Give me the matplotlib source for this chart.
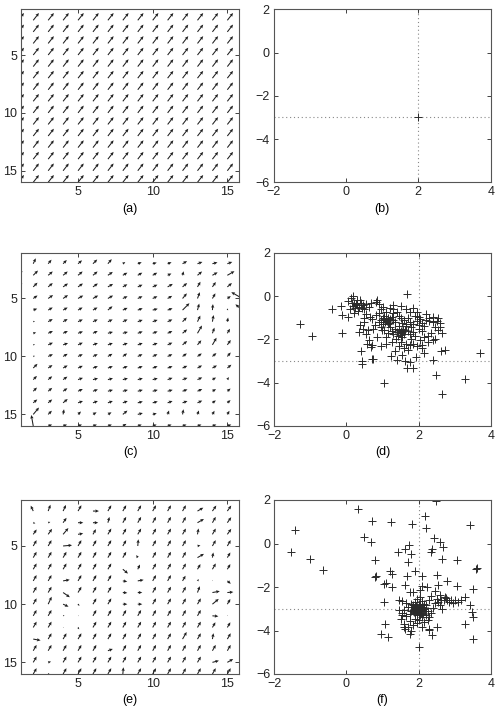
import numpy as np
import matplotlib
matplotlib.use('Agg')
import matplotlib.pyplot as plt

plt.rcParams['font.family'] = ['Liberation Sans', 'DejaVu Sans']
plt.rcParams['font.size'] = 9

# ---------------- data ----------------
GRID_X = list(range(1, 17))          # columns 1..16
GRID_Y = list(range(2, 17))          # rows 2..16 (row 1 lies outside the view)

# (a) uniform field
A_ANGLE = 52.0
A_LEN = 0.62

# (c) estimated field: screen angle (deg) and length (x-units); rows y=2..16, cols x=1..16
C_ANG = [
    [60, 65, 50, 45, 40, 45, 50, 35, 20, 15, 20, 30, 20, 15, 20, 0],
    [45, 45, 40, 40, 40, 40, 35, 30, 30, 30, 25, 75, 40, 30, 30, 0],
    [40, 45, 40, 35, 35, 35, 30, 30, 25, 25, 30, 40, 60, 55, 40, 0],
    [30, 35, 35, 35, 30, 30, 30, 25, 25, 25, 30, 50, 70, 60, 35, 150],
    [25, 20, 30, 30, 30, 30, 40, 25, 20, 15, 20, 45, 75, 85, 70, 140],
    [20, 20, 30, 30, 25, 25, 25, 25, 20, 20, 25, 45, 65, 80, 80, 0],
    [20, 15, 25, 25, 20, 25, 15, 15, 20, 20, 25, 40, 60, 70, 60, 0],
    [20, 15, 25, 20, 25, 20, 20, 20, 20, 20, 25, 40, 50, 60, 55, 0],
    [20, 20, 25, 30, 25, 25, 30, 35, 25, 25, 25, 35, 35, 40, 50, 0],
    [40, 45, 35, 30, 25, 20, 20, 20, 20, 20, 20, 25, 30, 30, 40, 0],
    [40, 45, 40, 35, 20, 15, 15, 15, 15, 15, 20, 20, 25, 30, 60, 0],
    [40, 45, 40, 35, 25, 20, 15, 15, 15, 15, 15, 20, 25, 30, 40, 0],
    [40, 40, 40, 40, 20, 20, 20, 20, 15, 15, 20, 20, 25, 35, 40, 0],
    [40, 50, 45, 80, 45, 30, 30, 40, 15, 15, 70, 80, 70, 60, 60, 0],
    [30, 100, 20, 20, 20, 20, 20, 30, 20, 20, 20, 20, 20, 20, 20, 0],
]
C_LEN = [
    [0.28, 0.4, 0.35, 0.35, 0.35, 0.4, 0.4, 0.2, 0.28, 0.28, 0.28, 0.35, 0.35, 0.35, 0.35, 0],
    [0.4, 0.45, 0.4, 0.4, 0.4, 0.4, 0.4, 0.35, 0.35, 0.35, 0.28, 0.28, 0.4, 0.4, 0.55, 0],
    [0.35, 0.4, 0.4, 0.4, 0.4, 0.4, 0.4, 0.35, 0.35, 0.35, 0.4, 0.4, 0.4, 0.4, 0.4, 0],
    [0.28, 0.35, 0.4, 0.4, 0.4, 0.4, 0.4, 0.35, 0.35, 0.35, 0.35, 0.45, 0.45, 0.4, 0.28, 0.85],
    [0.28, 0.28, 0.35, 0.35, 0.35, 0.35, 0.4, 0.35, 0.35, 0.35, 0.35, 0.65, 0.45, 0.4, 0.12, 0.6],
    [0.2, 0.12, 0.35, 0.35, 0.35, 0.35, 0.35, 0.35, 0.35, 0.35, 0.35, 0.4, 0.45, 0.45, 0.28, 0],
    [0.2, 0.2, 0.35, 0.35, 0.35, 0.35, 0.35, 0.35, 0.35, 0.35, 0.35, 0.4, 0.6, 0.4, 0.35, 0],
    [0.12, 0.12, 0.35, 0.35, 0.35, 0.35, 0.35, 0.35, 0.35, 0.35, 0.35, 0.4, 0.4, 0.55, 0.4, 0],
    [0.12, 0.12, 0.35, 0.35, 0.35, 0.35, 0.35, 0.35, 0.35, 0.35, 0.35, 0.35, 0.35, 0.35, 0.35, 0],
    [0.28, 0.4, 0.35, 0.35, 0.35, 0.35, 0.35, 0.35, 0.35, 0.35, 0.35, 0.35, 0.35, 0.35, 0.35, 0],
    [0.28, 0.35, 0.35, 0.35, 0.35, 0.35, 0.35, 0.35, 0.35, 0.35, 0.35, 0.35, 0.35, 0.28, 0.2, 0],
    [0.28, 0.35, 0.35, 0.35, 0.35, 0.35, 0.35, 0.35, 0.35, 0.35, 0.35, 0.35, 0.35, 0.28, 0.28, 0],
    [0.28, 0.35, 0.35, 0.4, 0.35, 0.35, 0.35, 0.35, 0.35, 0.35, 0.35, 0.35, 0.35, 0.28, 0.28, 0],
    [0.28, 0.6, 0.35, 0.35, 0.28, 0.28, 0.28, 0.4, 0.35, 0.28, 0.28, 0.35, 0.28, 0.28, 0.28, 0],
    [0.28, 0.75, 0.28, 0.28, 0.28, 0.28, 0.28, 0.28, 0.28, 0.28, 0.28, 0.28, 0.28, 0.28, 0.28, 0],
]

# (e) estimated field
E_ANG = [
    [55, 115, 70, 65, 60, 0, 60, 60, 60, 60, 60, 60, 30, 55, 55, 0],
    [60, -20, 20, 55, 0, 0, 75, 60, 60, 60, 60, 60, 30, 60, 55, 0],
    [55, 55, 55, 50, 10, 60, 60, 60, 60, 60, 60, 60, 80, 60, 55, 0],
    [55, 60, 60, 5, 60, 60, 60, 60, 85, 60, 60, 60, 10, 60, 60, 0],
    [55, 60, 60, 60, 60, 60, 60, 60, 120, 60, 60, 60, 30, 80, 60, 0],
    [10, 60, 60, 60, 60, 60, 60, -40, 65, 60, 60, 60, 60, 60, 60, 0],
    [55, 60, 60, 10, 60, 60, 60, -10, 10, 60, 60, 60, 50, 60, -40, 0],
    [55, 60, 60, -35, 60, 60, 60, -5, 0, 60, 60, 60, 70, 10, 5, 0],
    [55, 60, 65, -25, -50, 60, 60, 0, 0, 60, 60, 60, 60, 40, 60, 0],
    [55, 60, 60, 20, 0, 60, 60, 60, 60, 60, 60, 60, 60, -5, 60, 0],
    [55, 60, 60, 30, -60, 60, 60, 60, 60, 60, 60, 60, 60, 60, 60, 0],
    [55, -10, 60, 60, 60, 60, 60, 60, 60, 60, 60, 60, 60, 80, 60, 0],
    [55, 60, 60, 60, 60, 60, 20, 60, 60, 60, 60, 60, 60, 60, 60, 0],
    [55, 60, 15, 60, 60, 60, 60, 60, 60, 60, 60, 60, 60, 15, 30, 0],
    [55, 60, 40, 60, 60, 60, 60, 85, 60, 60, 60, 60, 60, 60, 60, 0],
]
E_LEN = [
    [0.35, 0.4, 0.45, 0.45, 0.45, 0.4, 0.45, 0.45, 0.45, 0.45, 0.45, 0.45, 0.45, 0.45, 0.45, 0],
    [0.1, 0.15, 0.15, 0.4, 0.35, 0.35, 0.4, 0.45, 0.45, 0.45, 0.45, 0.45, 0.5, 0.45, 0.45, 0],
    [0.35, 0.4, 0.45, 0.55, 0.35, 0.4, 0.45, 0.45, 0.45, 0.45, 0.45, 0.45, 0.4, 0.45, 0.45, 0],
    [0.35, 0.45, 0.45, 0.6, 0.45, 0.45, 0.45, 0.45, 0.45, 0.45, 0.45, 0.45, 0.2, 0.45, 0.45, 0],
    [0.35, 0.45, 0.45, 0.45, 0.45, 0.45, 0.45, 0.45, 0.2, 0.45, 0.45, 0.45, 0.5, 0.35, 0.4, 0],
    [0.2, 0.45, 0.45, 0.45, 0.45, 0.45, 0.45, 0.45, 0.35, 0.45, 0.45, 0.45, 0.4, 0.45, 0.4, 0],
    [0.35, 0.45, 0.45, 0.45, 0.45, 0.45, 0.45, 0.3, 0.4, 0.45, 0.45, 0.4, 0.15, 0.05, 0.3, 0],
    [0.35, 0.45, 0.45, 0.55, 0.45, 0.45, 0.45, 0.3, 0.3, 0.45, 0.45, 0.45, 0.45, 0.5, 0.4, 0],
    [0.35, 0.45, 0.55, 0.4, 0.15, 0.45, 0.45, 0.3, 0.3, 0.45, 0.45, 0.45, 0.45, 0.55, 0.4, 0],
    [0.35, 0.45, 0.45, 0.1, 0.05, 0.45, 0.45, 0.45, 0.45, 0.45, 0.45, 0.45, 0.45, 0.4, 0.05, 0],
    [0.35, 0.45, 0.45, 0.05, 0.15, 0.45, 0.45, 0.45, 0.45, 0.45, 0.45, 0.45, 0.45, 0.4, 0.4, 0],
    [0.35, 0.5, 0.45, 0.45, 0.45, 0.45, 0.45, 0.45, 0.45, 0.45, 0.45, 0.55, 0.45, 0.4, 0.45, 0],
    [0.35, 0.45, 0.45, 0.45, 0.45, 0.45, 0.35, 0.45, 0.45, 0.45, 0.45, 0.45, 0.45, 0.45, 0.45, 0],
    [0.35, 0.45, 0.2, 0.45, 0.45, 0.45, 0.45, 0.45, 0.45, 0.45, 0.45, 0.45, 0.45, 0.45, 0.45, 0],
    [0.35, 0.45, 0.1, 0.45, 0.45, 0.45, 0.45, 0.45, 0.45, 0.45, 0.45, 0.45, 0.45, 0.45, 0.45, 0],
]

# (b) single estimate
B_X = [2.0]
B_Y = [-3.0]

# (d) estimates
D_PTS = [
    (-1.28, -1.27), (-0.96, -1.85), (-0.41, -0.60), (-0.12, -1.71), (-0.16, -0.46), (-0.11, -0.89),
    (0.05, -0.99), (0.05, -0.25), (0.12, -0.10), (0.19, -0.02), (0.22, -0.30), (0.28, -0.18),
    (0.30, -0.40), (0.18, -0.45), (0.25, -0.55), (0.35, -0.50), (0.40, -0.30), (0.45, -0.42),
    (0.10, -0.60), (0.32, -0.70), (0.48, -0.62), (0.55, -0.35), (0.62, -0.50), (0.68, -0.30),
    (0.85, -0.17), (0.81, -0.28), (0.53, -0.81), (0.20, -0.78), (0.38, -0.20), (0.15, -0.30),
    (0.26, -0.38), (0.42, -0.55),
    (0.39, -1.34), (0.49, -1.19), (0.35, -1.65), (0.60, -1.57), (0.62, -2.03), (0.67, -2.34),
    (0.81, -0.89), (0.78, -1.34), (0.90, -1.19), (0.85, -1.88), (0.99, -1.57), (1.11, -1.91),
    (0.45, -1.50), (0.55, -1.75), (0.70, -1.05), (0.65, -0.95), (0.72, -2.25), (0.95, -2.30),
    (0.58, -2.20), (0.50, -1.00), (0.75, -1.50),
    (0.41, -2.52), (0.43, -3.02), (0.43, -3.15), (0.71, -2.89), (0.74, -2.92), (1.05, -4.00),
    (1.23, -2.79), (1.40, -2.95), (1.63, -3.02), (1.68, -3.33), (1.84, -3.33), (1.94, -2.82),
    (2.39, -2.95), (2.61, -2.52), (2.73, -2.49), (2.39, -2.03), (2.14, -2.61), (2.09, -2.41),
    (3.70, -2.64), (3.29, -3.83), (2.64, -4.53), (2.49, -3.65), (1.69, 0.11), (1.75, -3.05),
    (1.55, -2.70), (1.35, -2.55),
    (1.00, -1.00), (1.05, -1.05), (1.10, -1.10), (1.15, -1.00), (1.08, -1.20), (1.12, -1.15),
    (1.18, -1.25), (1.02, -1.18), (0.95, -1.10), (1.20, -1.05), (1.25, -0.95), (1.05, -0.90),
    (1.15, -1.30), (1.00, -1.30), (1.30, -1.10), (1.35, -1.20), (1.28, -0.80), (1.40, -0.75),
    (1.30, -0.60), (1.45, -0.90), (1.50, -1.00), (1.10, -0.75), (1.20, -0.55), (0.95, -0.60),
    (0.90, -0.80),
    (1.45, -1.55), (1.50, -1.60), (1.55, -1.65), (1.48, -1.70), (1.58, -1.50), (1.52, -1.80),
    (1.40, -1.65), (1.62, -1.55), (1.60, -1.75), (1.45, -1.40), (1.35, -1.50), (1.65, -1.40),
    (1.70, -1.60), (1.55, -1.90), (1.42, -1.85), (1.30, -1.75), (1.25, -1.60), (1.20, -1.45),
    (1.38, -2.00), (1.50, -2.10), (1.65, -2.20), (1.75, -2.25), (1.85, -2.20), (1.95, -2.30),
    (1.80, -2.00), (1.90, -1.85),
    (1.85, -0.55), (1.65, -0.60), (1.75, -0.75), (1.90, -0.90), (2.00, -0.95), (2.05, -1.05),
    (1.95, -1.15), (2.10, -1.25), (2.00, -1.35), (1.85, -1.30), (1.75, -1.20), (1.80, -1.45),
    (2.00, -1.50), (2.10, -1.60), (2.15, -1.40), (2.20, -1.10), (2.30, -1.15), (2.40, -1.20),
    (2.50, -1.15), (2.55, -1.00), (2.60, -1.25), (2.45, -1.45), (2.55, -1.55), (2.65, -1.70),
    (2.35, -1.70), (2.25, -1.85), (2.15, -1.90), (2.05, -2.05), (2.10, -2.25), (2.25, -2.10),
    (2.45, -2.00), (2.30, -1.00), (2.20, -0.85), (1.95, -0.75), (2.40, -0.95), (2.60, -1.45),
    (1.60, -1.10), (1.70, -1.00), (1.55, -1.25), (1.65, -1.30), (1.75, -1.75), (1.85, -1.65),
    (1.15, -1.70), (1.05, -1.55), (0.95, -1.45), (1.25, -2.10), (1.10, -2.20), (1.45, -2.30),
    (1.60, -2.40), (1.70, -2.50), (1.30, -0.40), (1.50, -0.45), (0.90, -0.35), (1.00, -0.50),
]
D_X = [p[0] for p in D_PTS]
D_Y = [p[1] for p in D_PTS]

# (f) estimates
F_PTS = [
    (-1.54, -0.41), (-1.42, 0.64), (-1.00, -0.69), (-0.66, -1.20), (0.33, 1.58), (0.70, 1.04),
    (1.24, 1.00), (1.82, 0.89), (2.18, 1.26), (2.21, 0.70), (2.49, 1.95), (3.42, 0.84),
    (0.49, 0.28), (0.67, 0.08), (0.79, -0.77), (0.79, -1.53), (0.83, -1.50), (1.04, -1.84),
    (1.10, -1.80), (1.22, -1.27), (1.27, -1.41), (1.25, -2.02), (1.04, -2.71), (1.08, -3.68),
    (0.97, -4.17), (1.16, -4.32), (1.43, -0.38), (1.61, -0.23), (1.74, -0.08), (1.79, -0.46),
    (1.72, -0.84), (1.68, -1.50), (1.91, -1.26), (2.09, -1.50), (2.37, -0.23), (2.42, 0.23),
    (2.60, 0.08), (2.69, -0.15), (2.64, -0.69), (2.34, -0.38), (3.06, -0.74), (3.58, -1.15),
    (3.61, -1.12), (2.78, -1.73), (3.06, -1.95), (2.50, -1.46), (2.55, -1.92), (2.23, -1.99),
    (3.51, -2.07), (3.28, -2.45), (3.19, -2.61), (3.42, -2.84), (3.47, -3.14), (3.51, -3.37),
    (3.30, -3.68), (3.51, -4.37), (2.00, -4.75), (2.73, -2.48), (2.76, -2.52), (2.80, -2.58),
    (2.62, -2.58), (2.90, -2.62), (3.00, -2.58), (2.50, -3.83), (2.37, -4.21), (2.28, -3.98),
    (1.54, -3.30), (1.59, -3.83), (1.77, -4.14), (1.47, -2.61), (1.77, -2.22), (1.63, -1.92),
    (1.55, -2.65), (1.65, -2.75), (1.70, -2.90), (1.60, -3.05), (1.55, -3.20), (1.65, -3.35),
    (1.75, -3.25), (1.80, -3.10), (1.85, -2.85), (1.90, -2.70), (1.95, -2.55), (2.05, -2.45),
    (2.10, -2.65), (2.15, -2.80), (2.20, -2.95), (2.25, -3.10), (2.20, -3.30), (2.10, -3.40),
    (2.00, -3.50), (1.90, -3.45), (1.75, -3.55), (1.60, -3.70), (1.70, -3.85), (1.85, -3.75),
    (1.95, -3.65), (2.15, -3.60), (2.25, -3.50), (2.30, -3.40), (2.35, -3.20), (2.40, -2.95),
    (2.45, -2.75), (2.30, -2.60), (2.35, -2.40), (2.50, -2.55), (2.55, -2.70), (2.60, -2.85),
    (2.65, -3.00), (2.70, -2.60), (2.85, -2.70), (2.95, -2.75), (3.10, -2.70), (2.60, -2.35),
    (2.45, -2.20), (1.50, -3.45), (1.45, -3.05), (1.80, -4.00), (2.10, -3.85), (2.30, -3.95),
    (1.62, -3.95), (2.10, -1.95), (1.85, -2.25), (2.05, -2.15),
    (2.00, -3.00), (2.02, -2.95), (1.98, -3.05), (2.05, -3.02), (1.95, -2.98), (2.03, -2.90),
    (1.97, -2.92), (2.08, -2.97), (1.92, -3.08), (2.06, -3.10), (2.00, -3.12), (2.10, -3.05),
    (1.90, -2.95), (2.04, -2.85), (1.96, -3.15), (2.12, -2.92), (1.88, -3.02), (2.07, -3.18),
    (1.94, -2.86), (2.15, -3.00), (1.85, -3.05), (2.01, -2.80), (2.00, -3.22), (2.09, -2.83),
    (1.91, -3.20), (2.18, -3.12), (1.83, -2.92), (2.13, -3.25), (1.87, -3.15), (2.05, -3.30),
    (1.95, -3.30), (2.20, -2.85), (1.80, -2.80),
]
F_X = [p[0] for p in F_PTS]
F_Y = [p[1] for p in F_PTS]

# ---------------- figure ----------------
W, H = 499, 716
fig = plt.figure(figsize=(W / 100, H / 100), dpi=100)
fig.patch.set_facecolor('white')


def add_ax(l, t, r, b):
    return fig.add_axes([l / W, 1 - b / H, (r - l) / W, (b - t) / H])


def style(ax):
    ax.tick_params(direction='in', top=True, right=True, length=3, width=0.6,
                   labelsize=9, pad=3, colors='#222222')
    for s in ax.spines.values():
        s.set_linewidth(0.8)
        s.set_color('#555555')


def field_panel(ax, ang, length, label):
    X, Y = np.meshgrid(GRID_X, GRID_Y)
    ang = np.asarray(ang, float)
    length = np.asarray(length, float)
    m = length > 0
    ax.quiver(X[m], Y[m], length[m], np.zeros(m.sum()), angles=ang[m],
              scale_units='x', scale=1, pivot='tail', color='#1e1e1e',
              width=0.0048, headwidth=3.2, headlength=3.5, headaxislength=3.0,
              minlength=0.5)
    ax.set_xlim(1.2, 15.8)
    ax.set_ylim(16.0, 1.05)
    ax.set_xticks([5, 10, 15])
    ax.set_yticks([5, 10, 15])
    style(ax)
    ax.set_xlabel(label, fontsize=9, labelpad=3)


def scatter_panel(ax, xs, ys, label):
    ax.axvline(2, color='#888888', lw=0.8, ls=(0, (1, 2.5)), zorder=1)
    ax.axhline(-3, color='#888888', lw=0.8, ls=(0, (1, 2.5)), zorder=1)
    ax.plot(xs, ys, ls='none', marker='+', ms=5.8, mew=0.7, color='#2a2a2a', zorder=2)
    ax.set_xlim(-2, 4)
    ax.set_ylim(-6, 2)
    ax.set_xticks([-2, 0, 2, 4])
    ax.set_yticks([-6, -4, -2, 0, 2])
    style(ax)
    ax.set_xlabel(label, fontsize=9, labelpad=3)


axa = add_ax(21.3, 9.3, 239.3, 182.3)
A_ANG_GRID = np.full((len(GRID_Y), len(GRID_X)), A_ANGLE)
A_LEN_GRID = np.full((len(GRID_Y), len(GRID_X)), A_LEN)
field_panel(axa, A_ANG_GRID, A_LEN_GRID, '(a)')

axb = add_ax(273.5, 9.3, 490.7, 182.3)
scatter_panel(axb, B_X, B_Y, '(b)')

axc = add_ax(21.3, 252.7, 239.3, 426.0)
field_panel(axc, C_ANG, C_LEN, '(c)')

axd = add_ax(274.3, 252.7, 490.7, 426.0)
scatter_panel(axd, D_X, D_Y, '(d)')

axe = add_ax(21.3, 500.0, 239.3, 674.0)
field_panel(axe, E_ANG, E_LEN, '(e)')

axf = add_ax(274.3, 500.0, 490.7, 674.0)
scatter_panel(axf, F_X, F_Y, '(f)')

fig.savefig('out.png', dpi=100, facecolor='white')
